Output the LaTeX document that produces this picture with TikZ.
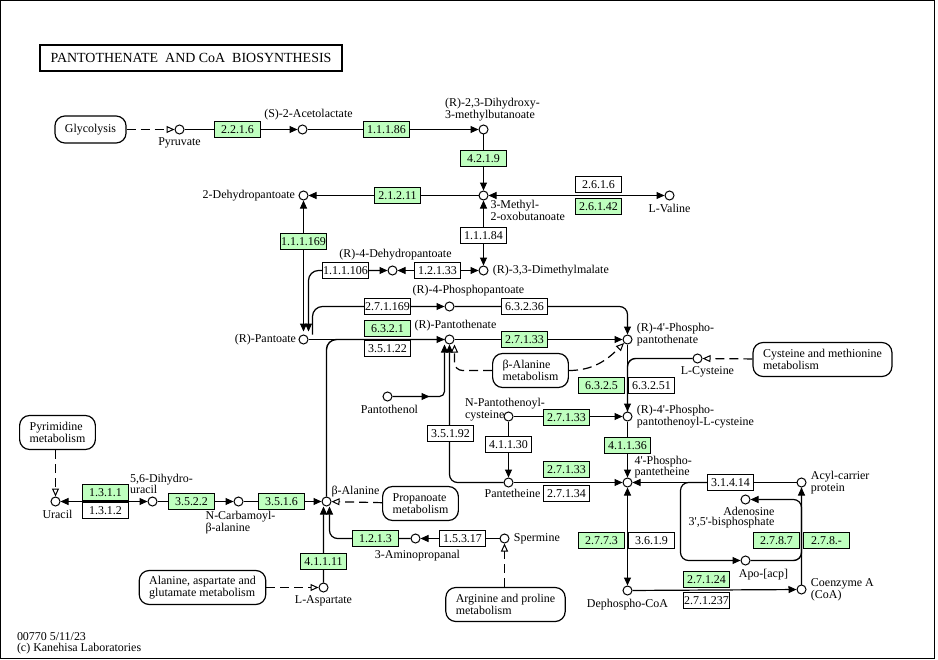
\documentclass[tikz,border=0pt]{standalone}
\usepackage{fontspec}
\setmainfont{Liberation Serif}[Ligatures=TeXOff]
\usetikzlibrary{positioning,arrows.meta,backgrounds,calc}
\definecolor{ecgreen}{HTML}{BFFFBF}

\begin{document}
\begin{tikzpicture}[x=1bp, y=1bp, line width=1bp, font=\fontsize{12}{10.5}\selectfont,
    cpd/.style={circle, draw, fill=white, inner sep=0pt, minimum size=9bp},
    ec/.style={draw, fill=ecgreen, minimum width=46bp, minimum height=16bp, inner sep=0pt},
    ecw/.style={ec, fill=white},
    mapbox/.style={draw, rounded corners=10bp, align=left, inner xsep=10bp, inner ysep=0pt, minimum height=34bp, line width=1.2bp},
    lbl/.style={inner sep=0pt, align=left},
    bent/.style={rounded corners=#1},
    join/.style={line width=1.4bp, rounded corners=#1},
    arrf/.style={line width=1.2bp, -{Triangle[length=8bp,width=7bp,line width=1bp]}},
    arrb/.style={line width=1.2bp, {Triangle[length=8bp,width=7bp,line width=1bp]}-{Triangle[length=8bp,width=7bp,line width=1bp]}},
    maparr/.style={line width=1.2bp, dash pattern=on 9bp off 5bp, -{Triangle[open,fill=white,length=8bp,width=7bp,line width=1bp]}}]
  \useasboundingbox (0,0) rectangle (938,-660);
  \draw (0.5,-0.5) rectangle (934.5,-658.5);

  \begin{scope}[shift={(0.5,-0.5)}]
  % title and footer
  \node[draw, line width=2bp, minimum width=301bp, minimum height=26bp, font=\fontsize{14}{14}\selectfont] (title) at (190.5,-57.5) {PANTOTHENATE\ \ AND CoA\ \ BIOSYNTHESIS};
  \node[lbl, anchor=north west] (foot) at (16,-632) {00770 5/11/23\\(c) Kanehisa Laboratories};

  % compounds
  \foreach \nm/\x/\y in {pyr/179/129, acet/302/129, dhmb/483/129, dhp/303/195, mob/483/195, val/669/195,
      dkp/392/270, dmm/483/270, ppa/449/306, pant/303/339, pthn/449/339, ppant/627/339, cys/697/358,
      pthol/387/396, npc/508/416, ppcys/627/416, ptth/508/482, pptt/627/482, acp/801/482, adb/745/499,
      ura/55/501, dhu/152/501, ncb/238/501, bala/326/501, apal/415/538, spm/504/538, apo/745/560,
      asp/323/587, dcoa/627/590, coa/801/589}
    \node[cpd] (\nm) at (\x,-\y) {};

  % enzymes
  \foreach \nm/\x/\y/\txt in {e2216/237/129/2.2.1.6, e11186/386/129/1.1.1.86, e4219/483/158/4.2.1.9,
      e21211/397/195/2.1.2.11, e26142/598/206/2.6.1.42, e111169/303/241/1.1.1.169, e6321/387/328/6.3.2.1,
      e27133a/524/339/2.7.1.33, e6325/601/385/6.3.2.5, e27133b/566/417/2.7.1.33, e41136/627/445/4.1.1.36,
      e27133c/566/469/2.7.1.33, e2773/601/540/2.7.7.3, e2787/776/540/2.7.8.7, e278x/826/540/2.7.8.-,
      e27124/706/579/2.7.1.24, e1311/105/492/1.3.1.1, e3522/191/501/3.5.2.2, e3516/281/501/3.5.1.6,
      e1213/375/538/1.2.1.3, e41111/323/561/4.1.1.11}
    \node[ec] (\nm) at (\x,-\y) {\txt};
  \foreach \nm/\x/\y/\txt in {e2616/598/184/2.6.1.6, e11184/483/235/1.1.1.84, e111106/345/270/1.1.1.106,
      e12133/437/270/1.2.1.33, e271169/387/306/2.7.1.169, e63236/524/306/6.3.2.36, e35122/387/348/3.5.1.22,
      e63251/651/385/6.3.2.51, e35192/450/433/3.5.1.92, e41130/508/444/4.1.1.30, e27134/566/493/2.7.1.34,
      e31414/730/482/3.1.4.14, e3619/651/540/3.6.1.9, e271237/706/600/2.7.1.237, e1312/105/510/1.3.1.2,
      e15317/462/538/1.5.3.17}
    \node[ecw] (\nm) at (\x,-\y) {\txt};

  % maps
  \node[mapbox, minimum height=27bp] (glyc) at (90,-129) {Glycolysis};
  \node[mapbox] (balmap) at (530,-370) {β-Alanine\\metabolism};
  \node[mapbox] (cysmap) at (822,-359) {Cysteine and methionine\\metabolism};
  \node[mapbox] (pyrmap) at (57,-432) {Pyrimidine\\metabolism};
  \node[mapbox] (propmap) at (420,-503) {Propanoate\\metabolism};
  \node[mapbox] (aagmap) at (202,-587) {Alanine, aspartate and\\glutamate metabolism};
  \node[mapbox] (argmap) at (505,-604) {Arginine and proline\\metabolism};

  % compound labels
  \node[lbl, below=3pt of pyr] (pyr-l) {Pyruvate};
  \node[lbl, above=4pt of acet, xshift=6pt] (acet-l) {(S)-2-Acetolactate};
  \node[lbl, above=3pt of dhmb, xshift=9pt] (dhmb-l) {(R)-2,3-Dihydroxy-\\3-methylbutanoate};
  \node[lbl, left=3pt of dhp] (dhp-l) {2-Dehydropantoate};
  \node[lbl, below right=1pt and 3pt of mob] (mob-l) {3-Methyl-\\2-oxobutanoate};
  \node[lbl, below=3pt of val] (val-l) {L-Valine};
  \node[lbl, right=4pt of dmm] (dmm-l) {(R)-3,3-Dimethylmalate};
  \node[lbl, above=5pt of dkp, xshift=3pt] (dkp-l) {(R)-4-Dehydropantoate};
  \node[lbl, above=5pt of ppa, xshift=19pt] (ppa-l) {(R)-4-Phosphopantoate};
  \node[lbl, left=2pt of pant] (pant-l) {(R)-Pantoate};
  \node[lbl, above=3pt of pthn, xshift=6pt] (pthn-l) {(R)-Pantothenate};
  \node[lbl, right=4pt of ppant, yshift=5pt] (ppant-l) {(R)-4'-Phospho-\\pantothenate};
  \node[lbl, below=3pt of cys, xshift=10pt] (cys-l) {L-Cysteine};
  \node[lbl, below=3pt of pthol, xshift=2pt] (pthol-l) {Pantothenol};
  \node[lbl, anchor=south west] (npc-l) at ([xshift=-44pt,yshift=-5pt]npc.center) {N-Pantothenoyl-\\cysteine};
  \node[lbl, right=4pt of ppcys] (ppcys-l) {(R)-4'-Phospho-\\pantothenoyl-L-cysteine};
  \node[lbl, above right=0pt and 3pt of pptt] (pptt-l) {4'-Phospho-\\pantetheine};
  \node[lbl, below=1pt of ptth, xshift=4pt] (ptth-l) {Pantetheine};
  \node[lbl, right=4pt of acp] (acp-l) {Acyl-carrier\\protein};
  \node[lbl, align=right, below=2pt of adb, xshift=-14pt] (adb-l) {Adenosine\\3',5'-bisphosphate};
  \node[lbl, below=3pt of apo, xshift=18pt] (apo-l) {Apo-[acp]};
  \node[lbl, below=3pt of dcoa] (dcoa-l) {Dephospho-CoA};
  \node[lbl, right=4pt of coa] (coa-l) {Coenzyme A\\(CoA)};
  \node[lbl, below=3pt of ura, xshift=2pt] (ura-l) {Uracil};
  \node[lbl, above=2pt of dhu, xshift=9pt] (dhu-l) {5,6-Dihydro-\\uracil};
  \node[lbl, below=4pt of ncb, xshift=2pt] (ncb-l) {N-Carbamoyl-\\β-alanine};
  \node[lbl, above right=0pt and 1pt of bala] (bala-l) {β-Alanine};
  \node[lbl, below=6pt of apal, xshift=2pt] (apal-l) {3-Aminopropanal};
  \node[lbl, right=4pt of spm] (spm-l) {Spermine};
  \node[lbl, below=3pt of asp] (asp-l) {L-Aspartate};

  \coordinate (acpbr) at (680,-482);

  % reactions
  \begin{scope}[on background layer, line width=1.2bp]
    \draw[maparr] (glyc) -- (pyr);
    \draw[arrf] (pyr) -- (acet);
    \draw[arrf] (acet) -- (dhmb);
    \draw[arrf] (dhmb) -- (mob);
    \draw[arrf] (mob) -- (dhp);
    \draw[arrb] (mob) -- (val);
    \draw[arrb] (mob) -- (dmm);
    \draw[arrb] (dmm) -- (dkp);
    \draw[arrb, bent=10bp] ([xshift=5bp,yshift=3bp]pant.north) |- (dkp);
    \draw[arrb] (dhp) -- ([yshift=3bp]pant.north);
    \draw[arrf, bent=10bp] ([xshift=9bp]pant.north) |- (ppa);
    \draw[arrf, bent=8bp] (ppa) -| (ppant);
    \draw[arrf] (pant) -- (pthn);
    \draw[join=10bp] (bala) |- (pthn);
    \draw[arrf] (pthn) -- (ppant);
    \draw[arrf] (pthol) -- ([xshift=42bp]pthol.center);
    \draw[arrf, bent=5bp] (pthol) -| ([xshift=-5bp]pthn.south);
    \draw[arrf, bent=8bp] (ptth) -| (pthn);
    \draw[maparr, bent=8bp] (balmap) -| ([xshift=5bp]pthn.south);
    \draw[maparr] (balmap.east) to[out=0, in=225] (ppant);
    \draw[arrf] (ppant) -- (ppcys);
    \draw[join=8bp] (cys) -| (ppcys);
    \draw[maparr] (cysmap) -- (cys);
    \draw[arrf] (npc) -- (ppcys);
    \draw[arrf] (npc) -- (ptth);
    \draw[arrf] (ppcys) -- (pptt);
    \draw[arrf] (ptth) -- (pptt);
    \draw[arrf] (acp) -- (pptt);
    \draw[arrf, bent=8bp] (e31414.west) -- (acpbr) |- (apo);
    \draw[arrf] (coa) -- (acp);
    \draw[join=8bp] (apo) -| (acp);
    \draw[arrf, bent=8bp] (coa) |- (adb);
    \draw[arrb] (pptt) -- (dcoa);
    \draw[arrf] (dcoa) -- (coa);
    \draw[maparr] (pyrmap.south -| ura) -- (ura);
    \draw[arrb] (ura) -- (dhu);
    \draw[arrf] (dhu) -- (ncb);
    \draw[arrf] (ncb) -- (bala);
    \draw[maparr] (propmap) -- (bala);
    \draw[arrf] (asp) -- ([xshift=-3bp]bala.south);
    \draw[arrf, bent=8bp] (apal) -| ([xshift=3bp]bala.south);
    \draw[arrf] (spm) -- (apal);
    \draw[maparr] (argmap.north -| spm) -- (spm);
    \draw[maparr] (aagmap) -- (asp);
  \end{scope}
  \end{scope}
\end{tikzpicture}
\end{document}
